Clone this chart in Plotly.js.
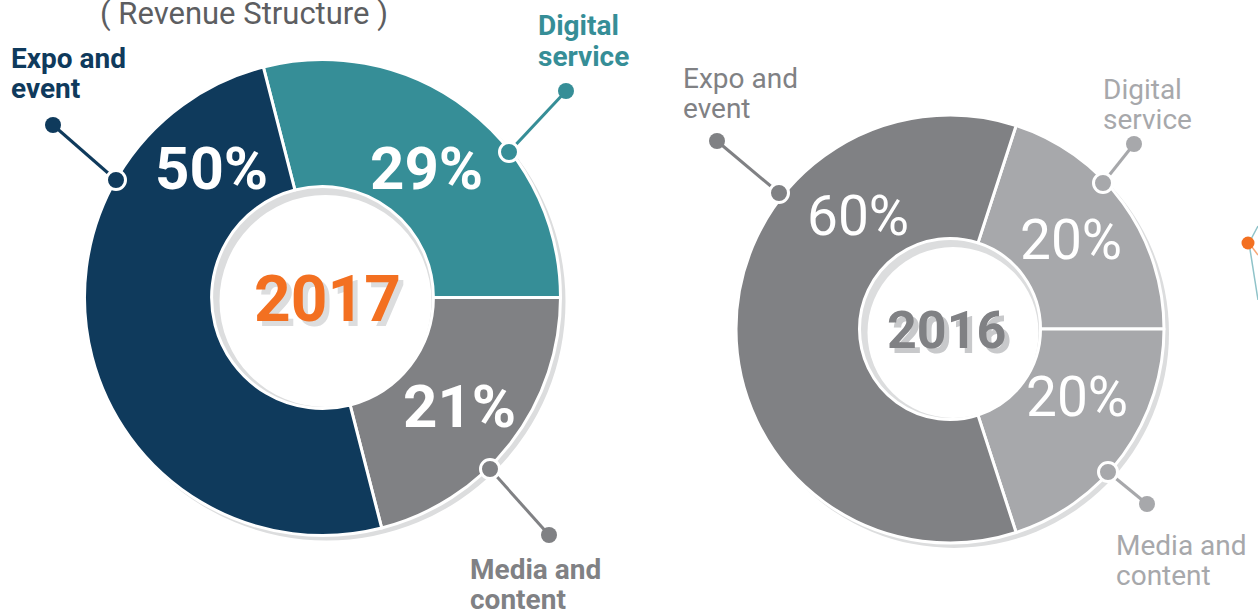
<!DOCTYPE html>
<html>
<head>
<meta charset="utf-8">
<script src="https://cdn.plot.ly/plotly-3.0.1.min.js"></script>
<style>html,body{margin:0;padding:0;background:#fff;}#chart{width:1258px;height:615px;}</style>
</head>
<body>
<div id="chart"></div>
<script>
// ---------- data ----------
const chartTitle = "( Revenue Structure )";
const categories = ["Digital service", "Media and content", "Expo and event"];
const years = ["2017", "2016"];
const values2017 = [29, 21, 50];
const values2016 = [20, 20, 60];

// ---------- styles / layout helpers ----------
const W = 1258, H = 615;
const X = p => p / W;
const Y = p => 1 - p / H;
const FONT = "Roboto, 'Open Sans', 'DejaVu Sans', sans-serif";

const navy = "#0f3a5c", teal = "#368e97", grey = "#808184", lgrey = "#a7a8ab";
const colors2017 = [teal, grey, navy];
const colors2016 = [lgrey, lgrey, grey];

const dom = (cx, cy, r) => ({x: [X(cx - r), X(cx + r)], y: [Y(cy + r), Y(cy - r)]});
const startRot = vals => 90 - vals[0] / vals.reduce((a, b) => a + b, 0) * 360;

const donuts = [
  {vals: values2017, colors: colors2017, cx: 322.5, cy: 297.5, r: 238, hole: 0.466, holeR: 111},
  {vals: values2016, colors: colors2016, cx: 950, cy: 329, r: 214, hole: 0.423, holeR: 90.5}
];

const traces = donuts.map(d => ({
  type: "pie",
  labels: categories,
  values: d.vals,
  sort: false,
  direction: "clockwise",
  rotation: startRot(d.vals),
  hole: d.hole,
  domain: dom(d.cx, d.cy, d.r),
  marker: {colors: d.colors, line: {color: "#ffffff", width: 3}},
  textinfo: "none",
  hoverinfo: "skip",
  showlegend: false
}));

// ---------- decorations ----------
const shapes = [];
function circle(cx, cy, r, fill, line, layer) {
  shapes.push({type: "circle", xref: "paper", yref: "paper", xsizemode: "pixel", ysizemode: "pixel",
    xanchor: X(cx), yanchor: Y(cy), x0: -r, x1: r, y0: -r, y1: r,
    fillcolor: fill, line: line || {width: 0}, layer: layer || "above"});
}
function seg(x0, y0, x1, y1, color, width) {
  shapes.push({type: "line", xref: "paper", yref: "paper", x0: X(x0), y0: Y(y0), x1: X(x1), y1: Y(y1),
    line: {color: color, width: width}, layer: "above"});
}
// drop shadows behind donuts
donuts.forEach(d => circle(d.cx + 4, d.cy + 4, d.r + 1, "#dcddde", null, "below"));
// inner hole shading
donuts.forEach(d => {
  circle(d.cx, d.cy, d.holeR - 3, "#dcddde");
  circle(d.cx + 3, d.cy + 3.5, d.holeR - 5, "#ffffff");
});

// leader lines: [outerDot, ringDot, color]
const leaders = [
  [[53, 125], [116, 180], navy],
  [[566, 91], [509, 152], teal],
  [[549, 535], [490, 469], grey],
  [[717, 141], [779, 193], grey],
  [[1134, 144], [1103, 183], lgrey],
  [[1147, 504], [1108, 472], lgrey]
];
leaders.forEach(([o, i, c]) => {
  seg(o[0], o[1], i[0], i[1], c, 3);
  circle(o[0], o[1], 8, c);
  circle(i[0], i[1], 9.5, c, {color: "#ffffff", width: 3});
});
// partial element at the right edge
seg(1258, 226, 1249, 243, "#8fc3c9", 1.5);
seg(1249, 243, 1258, 300, "#8fc3c9", 1.5);
seg(1249, 243, 1258, 255, "#f7a878", 1.5);
circle(1248, 243, 6.5, "#f37021");

// ---------- text ----------
const annotations = [];
function txt(x, y, text, size, color, weight, xanchor, shadow) {
  const font = {family: FONT, size: size, color: color, weight: weight || 400};
  if (shadow) font.shadow = shadow;
  annotations.push({xref: "paper", yref: "paper", x: X(x), y: Y(y), text: text, showarrow: false,
    xanchor: xanchor || "center", yanchor: "middle", font: font});
}
txt(244, 14, chartTitle, 31, "#5d5e61", 400);

function splitLabel(s) {
  const k = s.lastIndexOf(" ");
  return [s.slice(0, k), s.slice(k + 1)];
}
// category labels: [left x, first-line y, color, weight] per category for each year
const labelPos = [
  [[536, 26, teal, 700], [468, 569, grey, 700], [9, 58, navy, 700]],
  [[1101, 89, lgrey, 400], [1114, 545, lgrey, 400], [681, 78, grey, 400]]
];
labelPos.forEach(yearPos => yearPos.forEach((p, i) => {
  splitLabel(categories[i]).forEach((line, j) => txt(p[0], p[1] + j * 30.5, line, 28, p[2], p[3], "left"));
}));

// percentage labels
const pctPos = [
  [[426, 168], [459, 406], [211, 168]],
  [[1071, 240], [1077, 397], [858, 216]]
];
[values2017, values2016].forEach((vals, k) => vals.forEach((v, i) =>
  txt(pctPos[k][i][0], pctPos[k][i][1], v + "%", k === 0 ? 60 : 55, "#ffffff", k === 0 ? 700 : 400)));

// year labels with offset shadow
txt(327, 299, years[0], 64, "#f37021", 700, "center", "5px 5px 0px #dcddde");
txt(946, 330, years[1], 52, grey, 700, "center", "5px 5px 0px #c8c9cb");

Plotly.newPlot("chart", traces, {
  width: W, height: H,
  margin: {l: 0, r: 0, t: 0, b: 0},
  paper_bgcolor: "#ffffff",
  plot_bgcolor: "#ffffff",
  showlegend: false,
  shapes: shapes,
  annotations: annotations
}, {staticPlot: true});
</script>
</body>
</html>
